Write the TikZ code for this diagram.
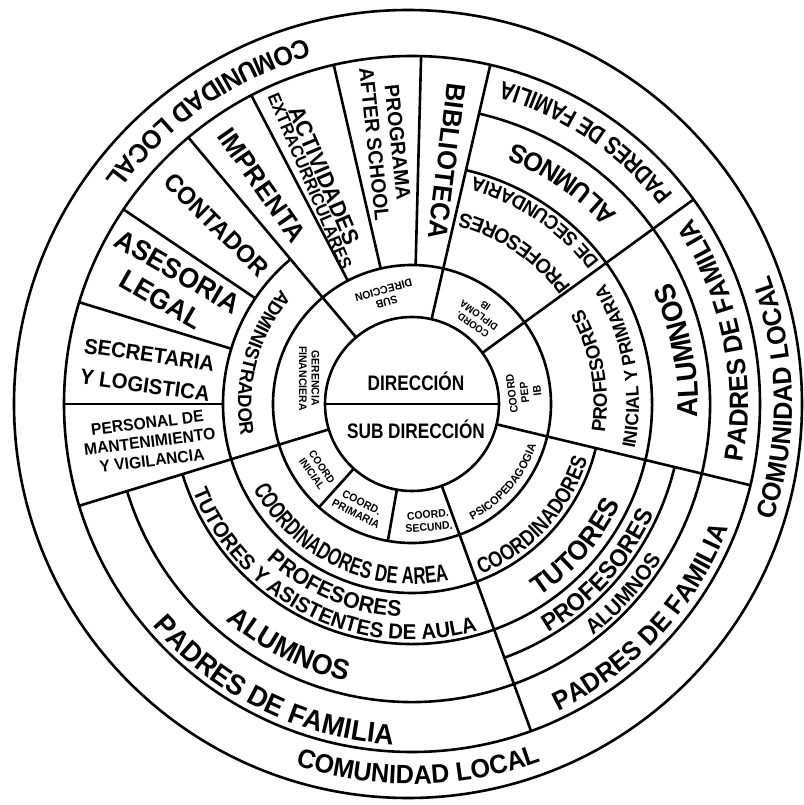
\documentclass[tikz,border=0pt]{standalone}
\usepackage{fontspec}
\setmainfont{Liberation Sans}[FakeStretch=0.95]
\newfontfamily\lblfont{Liberation Sans}[FakeStretch=0.82]
\newfontfamily\narrowfont{Liberation Sans}[FakeStretch=0.7]
\usetikzlibrary{decorations.text}
\newcommand\lsize[1]{\fontsize{#1}{#1}\selectfont\bfseries\baselineskip=1.15\baselineskip}
% text on an arc, centred on angle #1, baseline radius #2
\newcommand\arclabel[4]{%
  \path[decorate, decoration={text along path, text align=center,
    text={|#3|#4}}] ({#1-60}:#2) arc[start angle={#1-60}, end angle={#1+60}, radius=#2];}
\tikzset{
  lbl/.style={align=center, inner sep=0pt, font=\lsize{#1}},
  small/.style={align=center, inner sep=0pt, font=\lsize{#1}},
  head/.style={inner sep=0pt, font=\lblfont\lsize{21}}
}

\begin{document}
\begin{tikzpicture}[x=1pt, y=1pt, line width=2.6pt]
  \useasboundingbox (-412,-401) rectangle (391,404);

  % circles
  \draw (0,0) circle[radius=87];
  \draw (0,0) circle[radius=139];
  \draw (0,0) circle[radius=348];
  \draw (-4,0) circle[radius=394];
  % partial rings
  \draw (130:189) arc[start angle=130, end angle=346.5, radius=189];
  \draw (197:240) arc[start angle=197, end angle=437, radius=240];
  \draw (290:270) arc[start angle=290, end angle=346.5, radius=270];
  \draw (197:298) arc[start angle=197, end angle=437, radius=298];
  % spokes
  \draw (180:87) -- (0:87);
  \foreach \a in {36,77,130,197,290,346.5} \draw (\a:87) -- (\a:348);
  \foreach \a in {228,260} \draw (\a:87) -- (\a:139);
  \foreach \a in {88.5,103,117.5} \draw (\a:139) -- (\a:348);
  \foreach \a in {146,163,180} \draw (\a:189) -- (\a:348);

  % centre
  \node[head] (dir) at (4,23) {DIRECCIÓN};
  \node[head] (subdir) at (4,-25) {SUB DIRECCIÓN};

  % second ring
  \node[small=11, rotate=195] (subdireccion) at (104:111) {SUB\\DIRECCION};
  \node[small=10, rotate=145] (diploma) at (53:111) {COORD.\\DIPLOMA\\IB};
  \node[small=11, rotate=97] (pep) at (6:113) {COORD\\PEP\\IB};
  \node[small=11, rotate=5] (secund) at (-82:118) {COORD.\\SECUND.};
  \node[small=11, rotate=-27] (primaria) at (243:117) {COORD.\\PRIMARIA};
  \node[small=10.5, rotate=-55] (inicial) at (215:116) {COORD\\INICIAL};
  \node[small=11, rotate=-90] (gerencia) at (166:106) {GERENCIA\\FINANCIERA};
  \arclabel{-40.5}{131}{\lsize{11.5}}{PSICOPEDAGOGIA}

  % administration
  \arclabel{164.6}{174}{\lsize{19.5}}{ADMINISTRADOR}
  \node[lbl=25, rotate=-45] (contador) at (137.5:265) {CONTADOR};
  \node[lbl=28, rotate=-30] (asesoria) at (154:270) {ASESORIA\\LEGAL};
  \node[lbl=21.5, rotate=-8] (secretaria) at (172.7:267) {SECRETARIA\\[6pt]Y LOGISTICA};
  \node[lbl=16.5, rotate=7] (personal) at (188.2:265) {PERSONAL DE\\MANTENIMIENTO\\Y VIGILANCIA};

  % services
  \node[lbl=27, rotate=-55] (imprenta) at (124.4:265) {IMPRENTA};
  \node[align=center, inner sep=0pt, rotate=-67] (actividades) at (112.6:245)
    {\lsize{23}ACTIVIDADES\\\lsize{17.5}EXTRACURRICULARES};
  \node[lbl=20.5, rotate=-84] (programa) at (95.7:262) {PROGRAMA\\AFTER SCHOOL};
  \node[lbl=27, rotate=-97] (biblioteca) at (81.8:245) {BIBLIOTECA};

  % secundaria
  \arclabel{56}{197.5}{\lsize{20.5}}{PROFESORES}
  \arclabel{56}{235}{\lsize{19.5}}{DE SECUNDARIA}
  \arclabel{55.7}{280}{\lsize{26.5}}{ALUMNOS}
  \arclabel{56.5}{335}{\lblfont\lsize{25}}{PADRES DE FAMILIA}

  % inicial y primaria
  \arclabel{10.4}{195}{\lsize{19.5}}{PROFESORES}
  \arclabel{10.3}{227}{\lsize{18.5}}{INICIAL Y PRIMARIA}
  \arclabel{11.3}{286}{\lsize{29}}{ALUMNOS}
  \arclabel{11.8}{336}{\lsize{26.5}}{PADRES DE FAMILIA}

  % psicopedagogia
  \arclabel{-42.7}{184}{\lblfont\lsize{22}}{COORDINADORES}
  \arclabel{-41}{231}{\lsize{27.5}}{TUTORES}
  \arclabel{-41.8}{266}{\lsize{24.5}}{PROFESORES}
  \arclabel{-42}{294}{\lsize{21.5}}{ALUMNOS}
  \arclabel{-43}{340}{\lsize{26.5}}{PADRES DE FAMILIA}

  % coordinacion de area
  \arclabel{245}{180}{\narrowfont\lsize{24}}{COORDINADORES DE AREA}
  \arclabel{247}{213}{\lsize{22.5}}{PROFESORES}
  \arclabel{244}{236}{\lsize{21.5}}{TUTORES Y ASISTENTES DE AULA}
  \arclabel{243}{285}{\lsize{28.5}}{ALUMNOS}
  \arclabel{243.7}{341}{\lsize{28.5}}{PADRES DE FAMILIA}

  % outer ring
  \arclabel{125}{380}{\lsize{26.5}}{COMUNIDAD LOCAL}
  \arclabel{1}{380}{\lsize{26.5}}{COMUNIDAD LOCAL}
  \arclabel{271}{380}{\lsize{26.5}}{COMUNIDAD LOCAL}
\end{tikzpicture}
\end{document}
